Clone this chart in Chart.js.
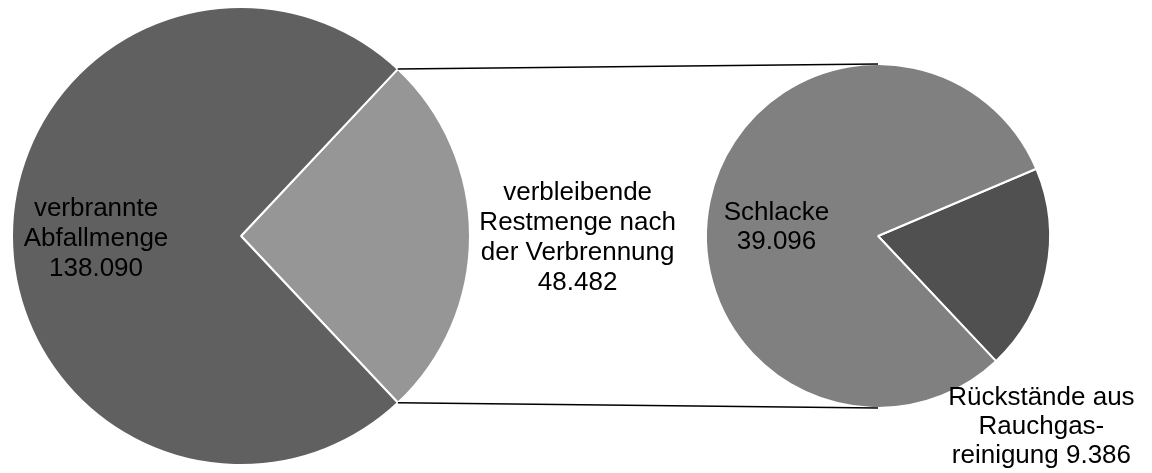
<!DOCTYPE html>
<html>
<head>
<meta charset="utf-8">
<script src="https://cdn.jsdelivr.net/npm/chart.js@4/dist/chart.umd.min.js"></script>
<style>
    html, body { margin: 0; padding: 0; background: #fff; }
    #wrap { position: relative; width: 1152px; height: 473px; }
    #wrap canvas { position: absolute; left: 0; top: 0; }
</style>
</head>
<body>
<div id="wrap">
    <canvas id="mainPie" width="1152" height="473"></canvas>
    <canvas id="subPie" width="1152" height="473"></canvas>
</div>
<script>
/*-------------------- 数据 --------------------*/
// 左侧大饼：总量
var mainLabels = [['verbleibende', 'Restmenge nach', 'der Verbrennung'], ['verbrannte', 'Abfallmenge']];
var mainValues = [48482, 138090];
var mainColors = ['#969696', '#606060'];

// 右侧小饼：剩余量拆分
var subLabels = [['Rückstände aus', 'Rauchgas-', 'reinigung'], ['Schlacke']];
var subValues = [9386, 39096];
var subColors = ['#505050', '#808080'];

var FONT = '26px "Liberation Sans", Arial, sans-serif';

/**
 * 千位分隔 138090 -> 138.090
 * @param n
 * @returns {string}
 */
function formatNumber(n) {
    return String(n).replace(/\B(?=(\d{3})+(?!\d))/g, '.');
}

/**
 * 画扇区文字 位置相对于圆心和半径
 */
var sliceTextPlugin = {
    id: 'sliceText',
    afterDatasetsDraw: function (chart, args, opts) {
        var ctx = chart.ctx,
            meta = chart.getDatasetMeta(0),
            labels = chart.data.labels,
            values = chart.data.datasets[0].data;

        ctx.save();
        ctx.font = FONT;
        ctx.fillStyle = '#000';
        ctx.textAlign = 'center';
        ctx.textBaseline = 'middle';

        for (var i = 0; i < meta.data.length; i++) {
            var arc = meta.data[i],
                r = arc.outerRadius,
                lines = labels[i].slice(),
                num = formatNumber(values[i]);

            if (opts.inline[i]) {
                lines[lines.length - 1] += ' ' + num;
            } else {
                lines.push(num);
            }

            var cx = arc.x + opts.pos[i][0] * r,
                cy = arc.y + opts.pos[i][1] * r,
                top = cy - (lines.length - 1) * opts.lineHeight / 2;

            for (var j = 0; j < lines.length; j++) {
                ctx.fillText(lines[j], cx, top + j * opts.lineHeight);
            }
        }
        ctx.restore();
    }
};

/**
 * 连接线：左饼扇区边缘 -> 右饼顶部/底部
 */
var connectorPlugin = {
    id: 'connector',
    afterDraw: function (chart) {
        if (!window.mainChart) return;
        var src = window.mainChart.getDatasetMeta(0).data[0],
            dst = chart.getDatasetMeta(0).data[0],
            ctx = chart.ctx;

        var p1 = [src.x + Math.cos(src.startAngle) * src.outerRadius, src.y + Math.sin(src.startAngle) * src.outerRadius],
            p2 = [src.x + Math.cos(src.endAngle) * src.outerRadius, src.y + Math.sin(src.endAngle) * src.outerRadius];

        ctx.save();
        ctx.strokeStyle = '#000';
        ctx.lineWidth = 1.5;
        ctx.beginPath();
        ctx.moveTo(p1[0], p1[1]);
        ctx.lineTo(dst.x, dst.y - dst.outerRadius);
        ctx.moveTo(p2[0], p2[1]);
        ctx.lineTo(dst.x, dst.y + dst.outerRadius);
        ctx.stroke();
        ctx.restore();
    }
};

/**
 * 饼图公共配置
 */
function pieOptions(rotation, padding, textOpts) {
    return {
        responsive: false,
        animation: false,
        rotation: rotation,
        layout: {padding: padding},
        events: [],
        plugins: {
            legend: {display: false},
            tooltip: {enabled: false},
            sliceText: textOpts
        }
    };
}

window.mainChart = new Chart(document.getElementById('mainPie'), {
    type: 'pie',
    data: {
        labels: mainLabels,
        datasets: [{
            data: mainValues,
            backgroundColor: mainColors,
            borderColor: '#fff',
            borderWidth: 2,
            hoverOffset: 0
        }]
    },
    options: pieOptions(43.2, {left: 11, top: 6, right: 681, bottom: 7}, {
        pos: [[1.47, 0.01], [-0.633, 0.013]],
        inline: [false, false],
        lineHeight: 30
    }),
    plugins: [sliceTextPlugin]
});

var subChart = new Chart(document.getElementById('subPie'), {
    type: 'pie',
    data: {
        labels: subLabels,
        datasets: [{
            data: subValues,
            backgroundColor: subColors,
            borderColor: '#fff',
            borderWidth: 2,
            hoverOffset: 0
        }]
    },
    options: pieOptions(67, {left: 705, top: 63, right: 101, bottom: 64}, {
        pos: [[0.95, 1.11], [-0.59, -0.05]],
        inline: [true, false],
        lineHeight: 29
    }),
    plugins: [sliceTextPlugin, connectorPlugin]
});
</script>
</body>
</html>
